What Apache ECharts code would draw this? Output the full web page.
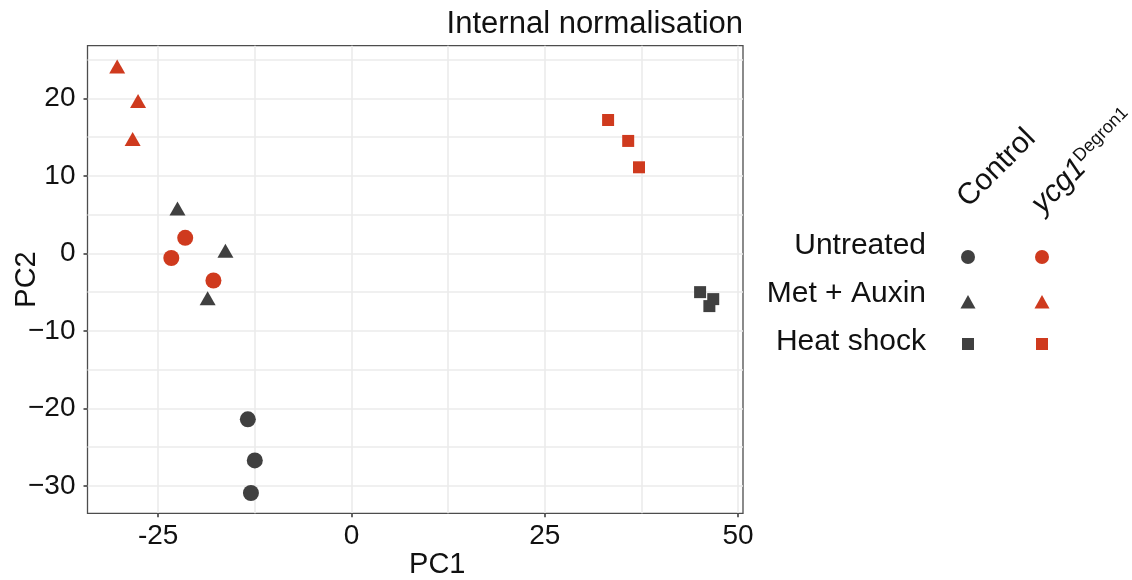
<!DOCTYPE html>
<html>
<head>
<meta charset="utf-8">
<script src="https://cdn.jsdelivr.net/npm/echarts@6/dist/echarts.min.js"></script>
<style>
  html, body { margin: 0; padding: 0; background: #ffffff; }
  #chart { width: 1132px; height: 580px; }
</style>
</head>
<body>
<div id="chart"></div>
<script>
// ---- data ----
const titleText = 'Internal normalisation';
const xName = 'PC1';
const yName = 'PC2';
const genotypes = ['Control', 'ycg1'];
const genotypeSup = ['', 'Degron1'];
const treatments = ['Untreated', 'Met + Auxin', 'Heat shock'];

const controlUntreatedPC1 = [-13.4, -12.5, -13.0];
const controlUntreatedPC2 = [-21.4, -26.7, -30.9];
const controlMetAuxinPC1 = [-22.5, -16.3, -18.6];
const controlMetAuxinPC2 = [5.8, 0.35, -5.8];
const controlHeatShockPC1 = [45.1, 46.3, 46.8];
const controlHeatShockPC2 = [-5.0, -6.8, -5.9];
const ycg1UntreatedPC1 = [-21.5, -23.3, -17.85];
const ycg1UntreatedPC2 = [2.0, -0.6, -3.5];
const ycg1MetAuxinPC1 = [-30.3, -27.6, -28.3];
const ycg1MetAuxinPC2 = [24.1, 19.65, 14.75];
const ycg1HeatShockPC1 = [33.2, 35.8, 37.2];
const ycg1HeatShockPC2 = [17.2, 14.5, 11.1];

const xTicks = [-25, 0, 25, 50];
const xTickLabels = ['-25', '0', '25', '50'];
const yTicks = [-30, -20, -10, 0, 10, 20];
const yTickLabels = ['\u221230', '\u221220', '\u221210', '0', '10', '20'];
const xMinorGrid = [-12.5, 12.5, 37.5];
const yMinorGrid = [-25, -15, -5, 5, 15, 25];
const xRange = [-34.14, 50.65];
const yRange = [-33.52, 26.78];

// ---- styles ----
const colors = ['#404040', '#cf3a1e'];
const shapes = ['circle', 'triangle', 'rect'];
const shapeSizes = [[16, 16], [16, 14], [12, 12]];
const FONT = '"Liberation Sans", Arial, sans-serif';

const groups = [
  [[controlUntreatedPC1, controlUntreatedPC2], [controlMetAuxinPC1, controlMetAuxinPC2], [controlHeatShockPC1, controlHeatShockPC2]],
  [[ycg1UntreatedPC1, ycg1UntreatedPC2], [ycg1MetAuxinPC1, ycg1MetAuxinPC2], [ycg1HeatShockPC1, ycg1HeatShockPC2]]
];

const chart = echarts.init(document.getElementById('chart'), null, { renderer: 'canvas' });

const series = [];
// gridlines via markLine drawn through the axes
const gridStyle = { color: '#ebebeb', width: 1.6, type: 'solid' };
const gridLines = [];
xTicks.concat(xMinorGrid).forEach(v => gridLines.push({ xAxis: v }));
yTicks.concat(yMinorGrid).forEach(v => gridLines.push({ yAxis: v }));
series.push({
  type: 'scatter', name: 'grid', data: [], z: 0, silent: true,
  markLine: { silent: true, z: 0, symbol: ['none', 'none'], label: { show: false },
    lineStyle: gridStyle, emphasis: { disabled: true }, animation: false, data: gridLines }
});

genotypes.forEach((g, gi) => {
  treatments.forEach((t, ti) => {
    const [xs, ys] = groups[gi][ti];
    series.push({
      type: 'scatter',
      name: g + ' ' + t,
      z: 3,
      symbol: shapes[ti],
      symbolSize: shapeSizes[ti],
      itemStyle: { color: colors[gi], opacity: 1 },
      data: xs.map((x, i) => [x, ys[i]])
    });
  });
});

// legend (custom matrix layout)
const graphics = [];
const labelRight = 926;
const labelY = [246, 294, 342];
const markerX = [968, 1042];
const markerY = [257, 302, 344];
const legendMarkerSizes = [14, 15, 12];
treatments.forEach((t, ti) => {
  graphics.push({
    type: 'text', x: labelRight, y: labelY[ti],
    style: { text: t, font: '30px ' + FONT, fill: '#111', align: 'right', verticalAlign: 'middle' }
  });
  genotypes.forEach((g, gi) => {
    const cx = markerX[gi], cy = markerY[ti], s = legendMarkerSizes[ti];
    let el;
    if (ti === 0) el = { type: 'circle', shape: { cx, cy, r: s / 2 } };
    else if (ti === 1) el = { type: 'polygon', shape: { points: [[cx, cy - s * 0.47], [cx + s / 2, cy + s * 0.43], [cx - s / 2, cy + s * 0.43]] } };
    else el = { type: 'rect', shape: { x: cx - s / 2, y: cy - s / 2, width: s, height: s } };
    el.style = { fill: colors[gi] };
    graphics.push(el);
  });
});
// rotated column headers
const headerPos = [[973, 213], [1048, 220]];
genotypes.forEach((g, gi) => {
  const sup = genotypeSup[gi];
  const text = sup ? '{i|' + g + '}{s|' + sup + '}' : '{n|' + g + '}';
  graphics.push({
    type: 'text', x: headerPos[gi][0], y: headerPos[gi][1], rotation: Math.PI / 4,
    style: {
      text: text, align: 'left', verticalAlign: 'bottom',
      fill: '#111',
      rich: {
        n: { fontSize: 30, fontFamily: FONT, fill: '#111' },
        i: { fontSize: 30, fontFamily: FONT, fontStyle: 'italic', fill: '#111' },
        s: { fontSize: 18, fontFamily: FONT, fill: '#111', padding: [0, 0, 14, 0] }
      }
    }
  });
});

const axisLabelStyle = { fontSize: 28, fontFamily: FONT, color: '#111' };

chart.setOption({
  animation: false,
  backgroundColor: '#ffffff',
  title: {
    text: titleText, right: 389, top: 9, padding: 0,
    textStyle: { fontSize: 31, fontWeight: 'normal', fontFamily: FONT, color: '#111' }
  },
  grid: {
    left: 87.5, right: 389, top: 45.7, bottom: 66.7,
    outerBoundsMode: 'none', containLabel: false,
    show: true, borderColor: '#4d4d4d', borderWidth: 1.3, backgroundColor: 'transparent'
  },
  xAxis: {
    type: 'value', min: xRange[0], max: xRange[1], position: 'bottom',
    name: xName, nameLocation: 'middle', nameGap: 37, nameMoveOverlap: false,
    nameTextStyle: { fontSize: 29, fontFamily: FONT, color: '#111', padding: [0, 0, 0, 44] },
    axisLine: { show: false, onZero: false },
    axisTick: { show: true, customValues: xTicks, length: 4, lineStyle: { color: '#333', width: 1.5 } },
    axisLabel: { customValues: xTicks, margin: 9, formatter: v => xTickLabels[xTicks.indexOf(Math.round(v * 100) / 100)] ?? '', ...axisLabelStyle },
    splitLine: { show: false }
  },
  yAxis: {
    type: 'value', min: yRange[0], max: yRange[1], position: 'left',
    name: yName, nameLocation: 'middle', nameGap: 46, nameMoveOverlap: false,
    nameTextStyle: { fontSize: 29, fontFamily: FONT, color: '#111' },
    axisLine: { show: false, onZero: false },
    axisTick: { show: true, customValues: yTicks, length: 4, lineStyle: { color: '#333', width: 1.5 } },
    axisLabel: { customValues: yTicks, margin: 12, formatter: v => yTickLabels[yTicks.indexOf(Math.round(v * 100) / 100)] ?? '', ...axisLabelStyle },
    splitLine: { show: false }
  },
  series: series,
  graphic: graphics
});
</script>
</body>
</html>
